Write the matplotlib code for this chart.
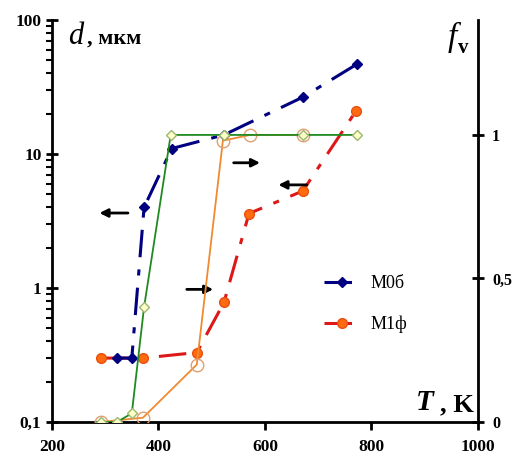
import numpy as np
import matplotlib.pyplot as plt

# grain size d (left, log axis)
T_m0 = [322, 350, 373, 425, 523, 671, 773]
d_m0 = [0.3, 0.3, 4.0, 11.0, 13.9, 26.6, 47.0]
T_m1 = [292, 371, 472, 523, 570, 671, 771]
d_m1 = [0.3, 0.3, 0.33, 0.78, 3.6, 5.3, 21.0]

# volume fraction f_v (right axis)
T_fv0 = [292, 322, 350, 373, 423, 523, 671, 773]
fv0 = [0.0, 0.0, 0.03, 0.40, 1.0, 1.0, 1.0, 1.0]
T_fv1 = [292, 371, 472, 521, 572, 671]
fv1 = [0.0, 0.015, 0.20, 0.98, 1.0, 1.0]

xticks = [200, 400, 600, 800, 1000]
yticks_l = [0.1, 1, 10, 100]
ylabels_l = ['0,1', '1', '10', '100']
yticks_r = [0, 0.5, 1]
ylabels_r = ['0', '0,5', '1']

plt.rcParams['font.family'] = 'Liberation Serif'

fig = plt.figure(figsize = (5.14, 4.57), dpi = 100)
ax = fig.add_axes((0.101, 0.0766, 0.829, 0.8794))
ax2 = ax.twinx()

l1, = ax.plot(T_m0, d_m0, color = '#000080', marker = 'D', ms = 5.5, mfc = '#000080', mec = '#000080',
    lw = 2.2, dashes = (9, 4, 2, 4), zorder = 4, label = 'М0б')
l2, = ax.plot(T_m1, d_m1, color = '#DD1818', marker = 'o', ms = 7, mfc = '#FF6A10', mec = '#E85010',
    lw = 2.2, dashes = (9, 4, 2, 4), zorder = 3, label = 'М1ф')

ax2.plot(T_fv0, fv0, color = '#208A20', lw = 1.3, marker = 'D', ms = 5.5, mfc = '#FFFFC8', mec = '#9AB870', zorder = 3)
ax2.plot(T_fv1, fv1, color = '#F08A30', lw = 1.3, marker = 'o', ms = 9, mfc = 'none', mec = '#E0A070', zorder = 2)

ax.set_yscale('log')
ax.set_xlim(200, 1000)
ax.set_ylim(0.1, 100)
ax2.set_ylim(0, 1.40)

ax.set_xticks(xticks)
ax.set_xticklabels([str(t) for t in xticks], fontsize = 12.5, fontweight = 'bold')
ax.set_yticks(yticks_l)
ax.set_yticklabels(ylabels_l, fontsize = 12.5, fontweight = 'bold')
ax2.set_yticks(yticks_r)
ax2.set_yticklabels(ylabels_r, fontsize = 11.5, fontweight = 'bold')

ax.tick_params(axis = 'y', which = 'major', length = 8, width = 2, direction = 'inout')
ax.tick_params(axis = 'y', which = 'minor', length = 4, width = 1.5, direction = 'out')
ax.tick_params(axis = 'x', length = 6, width = 2, direction = 'out', pad = 6)
ax2.tick_params(axis = 'y', length = 8, width = 2, direction = 'inout', pad = 6)

for s in ['left', 'bottom']:
    ax.spines[s].set_linewidth(2)
ax2.spines['right'].set_linewidth(2)
for a in [ax, ax2]:
    a.spines['top'].set_visible(False)
ax2.spines['left'].set_visible(False)
ax2.spines['bottom'].set_visible(False)

# axis labels
ax.text(0.037, 0.995, 'd', transform = ax.transAxes, fontsize = 22, fontstyle = 'italic', ha = 'left', va = 'top')
ax.text(0.082, 0.98, ', мкм', transform = ax.transAxes, fontsize = 16, fontweight = 'bold', ha = 'left', va = 'top')
ax.text(0.95, 0.995, 'f', transform = ax.transAxes, fontsize = 24, fontstyle = 'italic', ha = 'right', va = 'top')
ax.text(0.978, 0.955, 'v', transform = ax.transAxes, fontsize = 15, fontweight = 'bold', ha = 'right', va = 'top')
ax.text(0.895, 0.015, 'T', transform = ax.transAxes, fontsize = 21, fontweight = 'bold', fontstyle = 'italic',
    ha = 'right', va = 'bottom')
ax.text(0.99, 0.015, ', K', transform = ax.transAxes, fontsize = 19, fontweight = 'bold', ha = 'right', va = 'bottom')

# arrows
akw = dict(arrowstyle = '-|>', color = 'black', lw = 2, mutation_scale = 12)
for x0, x1, y in [(0.185, 0.105, 0.52), (0.31, 0.385, 0.33), (0.42, 0.495, 0.645), (0.605, 0.525, 0.59)]:
    ax.annotate('', xy = (x1, y), xytext = (x0, y), xycoords = 'axes fraction', arrowprops = akw)

leg = ax.legend(handles = [l1, l2], loc = 'upper left', bbox_to_anchor = (0.6, 0.405), frameon = False,
    fontsize = 13, handlelength = 2.0, labelspacing = 1.3, handletextpad = 0.6)

plt.savefig('out.png', dpi = 100)
